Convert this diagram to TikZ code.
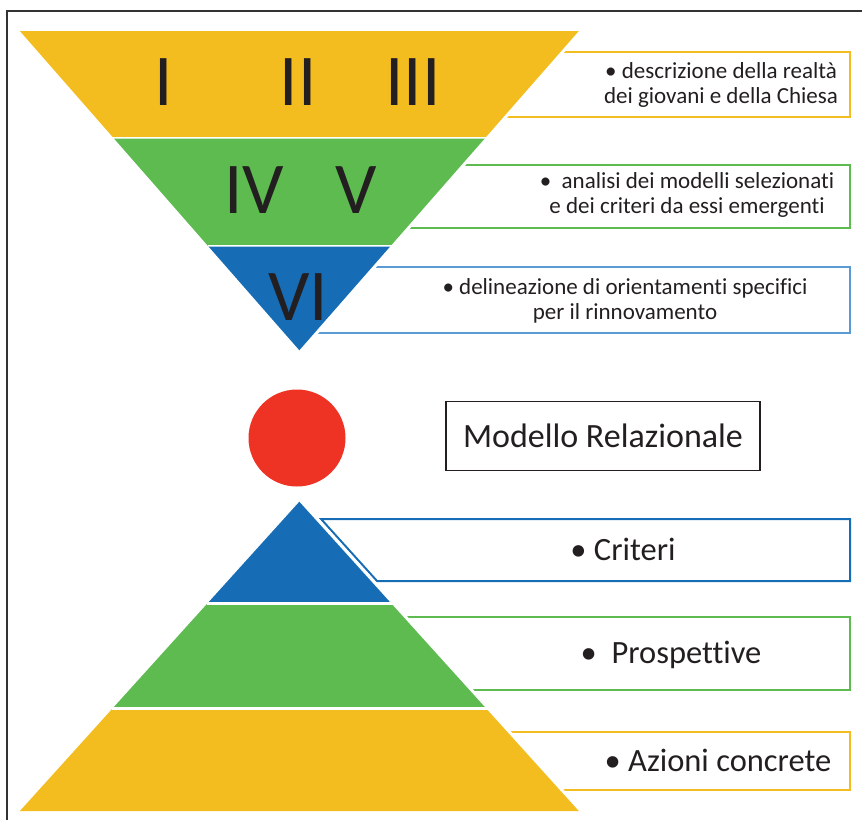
\documentclass[tikz,border=0pt]{standalone}
\usepackage{fontspec}
\setmainfont{Carlito}[RawFeature={-liga;-clig;-dlig;-calt;-rlig}]
\definecolor{cyel}{HTML}{F3BD1F}
\definecolor{cgrn}{HTML}{5DBB50}
\definecolor{cblu}{HTML}{166DB5}
\definecolor{cred}{HTML}{EE3224}
\definecolor{cltb}{HTML}{5B9BD5}
\definecolor{ctxt}{HTML}{231F20}
\definecolor{cframe}{HTML}{333333}
\tikzset{
  band/.style={draw=white,line width=3pt,line join=miter},
  boxline/.style={line width=2pt},
  numeral/.style={text=ctxt,font=\fontsize{73}{73}\selectfont,inner sep=0pt},
  desc/.style={text=ctxt,font=\fontsize{23}{25}\selectfont,align=center,inner sep=0pt},
  biglabel/.style={text=ctxt,font=\fontsize{32.5}{36}\selectfont,inner sep=0pt}
}
\begin{document}
\begin{tikzpicture}[x=1pt,y=-1pt]
\useasboundingbox (0,0) rectangle (862,820);
% frame
\draw[cframe,line width=1.5pt] (7,820) -- (7,11) -- (862,11);
% description boxes (behind the triangles)
\draw[boxline,cyel] (450,52) rectangle (850,117);
\draw[boxline,cgrn] (400,165) rectangle (850,228);
\draw[boxline,cltb] (300,267) rectangle (850,333);
\draw[boxline,cblu] (321,519) -- (850,519) -- (850,581) -- (377,581) -- cycle;
\draw[boxline,cgrn] (350,617) rectangle (850,690);
\draw[boxline,cyel] (400,732) rectangle (850,790);
% inverted triangle
\fill[cyel] (19,31) -- (581,31) -- (486.8,138.5) -- (113.2,138.5) -- cycle;
\draw[band] (113.2,138.5) -- (486.8,138.5);
\fill[cgrn] (113.2,138.5) -- (486.8,138.5) -- (392.3,246.5) -- (207.7,246.5) -- cycle;
\draw[band] (207.7,246.5) -- (392.3,246.5);
\fill[cblu] (207.7,246.5) -- (392.3,246.5) -- (300,352) -- cycle;
\draw[white,line width=3pt] (581,31) -- (300,352);
\draw[white,line width=1pt] (19,31) -- (300,352);
% red circle
\fill[cred] (297,438) circle (48.5pt);
% pyramid
\fill[cblu] (300,500) -- (393.5,603.5) -- (206.5,603.5) -- cycle;
\fill[cgrn] (206.5,603.5) -- (393.5,603.5) -- (488.3,708.5) -- (111.7,708.5) -- cycle;
\fill[cyel] (111.7,708.5) -- (488.3,708.5) -- (581,811) -- (19,811) -- cycle;
\draw[band] (206.5,603.5) -- (393.5,603.5);
\draw[band] (111.7,708.5) -- (488.3,708.5);
\draw[white,line width=3pt] (300,500) -- (581,811);
\draw[white,line width=1pt] (300,500) -- (19,811);
% numerals
\node[numeral] (n1) at (164,82) {I};
\node[numeral] (n2) at (298,82) {II};
\node[numeral] (n3) at (413,82) {III};
\node[numeral] (n4) at (254,190) {IV};
\node[numeral] (n5) at (356,190) {V};
\node[numeral] (n6) at (298,297) {VI};
% descriptions
\node[desc] (d1) at (721,85) {• descrizione della realtà\\dei giovani e della Chiesa};
\node[desc] (d2) at (687,195) {•\ \ analisi dei modelli selezionati\\e dei criteri da essi emergenti};
\node[desc] (d3) at (625,301) {• delineazione di orientamenti specifici\\per il rinnovamento};
% model box
\node[draw=ctxt,line width=1.2pt,minimum width=314pt,minimum height=69pt,inner sep=0pt,text=ctxt,font=\fontsize{34}{36}\selectfont] (mr) at (603,436) {Modello Relazionale};
% pyramid labels
\node[biglabel] (l1) at (623,549) {• Criteri};
\node[biglabel] (l2) at (671,655) {•\ \ Prospettive};
\node[biglabel] (l3) at (718,760) {• Azioni concrete};
\end{tikzpicture}
\end{document}
